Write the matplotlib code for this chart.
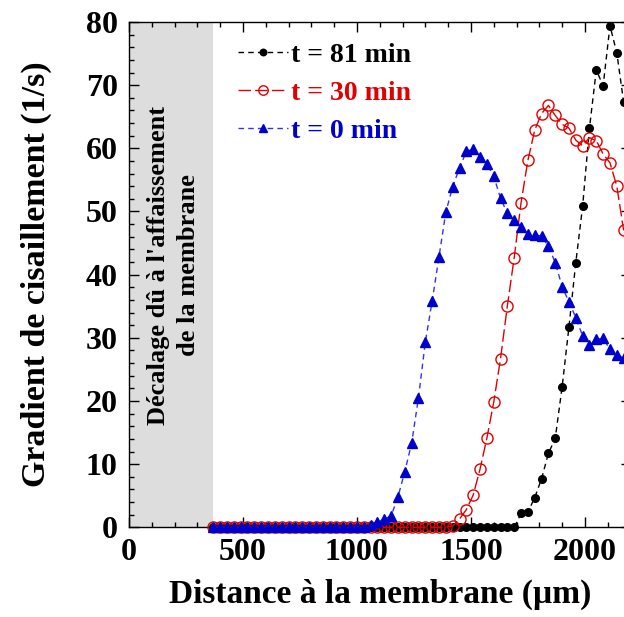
import matplotlib
matplotlib.use("Agg")
import matplotlib.pyplot as plt
from matplotlib.ticker import MultipleLocator

plt.rcParams['font.family'] = ['Liberation Serif', 'DejaVu Serif']
plt.rcParams['font.weight'] = 'bold'

distance = [370, 400, 430, 460, 490, 520, 550, 580, 610, 640, 670, 700, 730, 760, 790,
            820, 850, 880, 910, 940, 970, 1000, 1030, 1060, 1090, 1120, 1150, 1180, 1210,
            1240, 1270, 1300, 1330, 1360, 1390, 1420, 1450, 1480, 1510, 1540, 1570, 1600,
            1630, 1660, 1690, 1720, 1750, 1780, 1810, 1840, 1870, 1900, 1930, 1960, 1990,
            2020, 2050, 2080, 2110, 2140, 2170]

shear_t81 = [0, 0, 0, 0, 0, 0, 0, 0, 0, 0, 0, 0, 0, 0, 0,
             0, 0, 0, 0, 0, 0, 0, 0, 0, 0, 0, 0, 0, 0,
             0, 0, 0, 0, 0, 0, 0, 0, 0, 0, 0, 0, 0,
             0, 0, 0, 2.2, 2.4, 4.7, 7.7, 11.7, 14.1, 22.2, 31.7, 41.9, 50.8,
             63.2, 72.4, 69.9, 79.4, 75.1, 67.3]

shear_t30 = [0, 0, 0, 0, 0, 0, 0, 0, 0, 0, 0, 0, 0, 0, 0,
             0, 0, 0, 0, 0, 0, 0, 0, 0, 0, 0, 0, 0, 0,
             0, 0, 0, 0, 0, 0, 0.2, 1.3, 2.8, 5.1, 9.2, 14.1, 19.8,
             26.7, 35.1, 42.7, 51.4, 58.1, 62.9, 65.5, 66.8, 65.2, 63.8, 63.2, 61.3, 60.4,
             61.7, 61.2, 59.1, 57.7, 54.0, 47.0]

shear_t0 = [0, 0, 0, 0, 0, 0, 0, 0, 0, 0, 0, 0, 0, 0, 0,
            0, 0, 0, 0, 0, 0, 0, 0, 0.4, 0.8, 1.3, 1.8, 4.8, 8.8,
            13.3, 20.5, 29.3, 35.8, 42.8, 49.9, 53.9, 56.9, 59.5, 59.9, 58.7, 57.5, 55.6,
            52.1, 49.7, 48.6, 47.6, 46.5, 46.3, 46.1, 44.5, 41.9, 38.1, 35.7, 33.2, 30.3,
            28.8, 29.8, 29.9, 28.2, 27.3, 26.8]

labels = ["t = 81 min", "t = 30 min", "t = 0 min"]
colors = ["black", "#e00000", "#0000cc"]
shaded_end = 368
x_ticks = [0, 500, 1000, 1500, 2000]
y_ticks = [0, 10, 20, 30, 40, 50, 60, 70, 80]

fig = plt.figure(figsize=(6.24, 6.17), dpi=100)
ax = fig.add_axes([128.9 / 624, 89.7 / 617, 501.6 / 624, 505.3 / 617])

ax.axvspan(0, shaded_end, color="#dcdddc", zorder=0, lw=0)

l81, = ax.plot(distance, shear_t81, color="black", ls=(0, (4, 3)), lw=1.0,
               marker="o", ms=5.5, mfc="black", mec="black", clip_on=False, zorder=3)
l30, = ax.plot(distance, shear_t30, color="#e00000", ls=(0, (9, 3)), lw=1.0,
               marker="o", ms=8, mfc="none", mec="#e00000", mew=1.0, clip_on=False, zorder=4)
l0, = ax.plot(distance, shear_t0, color="#3333ee", ls=(0, (4, 3)), lw=1.0,
              marker="^", ms=7.5, mfc="#0000cc", mec="#0000cc", clip_on=False, zorder=5)

ax.set_xlim(0, 2200)
ax.set_ylim(0, 80)
ax.set_xticks(x_ticks)
ax.set_yticks(y_ticks)
ax.xaxis.set_minor_locator(MultipleLocator(100))
ax.yaxis.set_minor_locator(MultipleLocator(2))
ax.tick_params(which="both", direction="in", top=True, right=True, width=1, labelsize=23)
ax.tick_params(which="major", length=7.5, pad=8)
ax.tick_params(which="minor", length=3.5)
for s in ax.spines.values():
    s.set_linewidth(1)

ax.set_xlabel("Distance à la membrane (µm)", fontsize=24, fontweight="bold", labelpad=8)
ax.set_ylabel("Gradient de cisaillement (1/s)", fontsize=24.5, fontweight="bold", labelpad=24)

ax.text(196, 41.5, "Décalage dû à l'affaissement\nde la membrane", rotation=90,
        ha="center", va="center", multialignment="center", linespacing=1.35,
        fontsize=19, fontweight="bold")

leg = ax.legend([l81, l30, l0], labels, loc="upper left",
                bbox_to_anchor=(238 / 624, 1 - 42.5 / 617), bbox_transform=fig.transFigure,
                frameon=False, fontsize=20, handlelength=1.8, handletextpad=0.12,
                labelspacing=0.45, borderpad=0, borderaxespad=0, markerscale=0.85)
for txt, c in zip(leg.get_texts(), colors):
    txt.set_color(c)

fig.savefig("out.png", dpi=100)
